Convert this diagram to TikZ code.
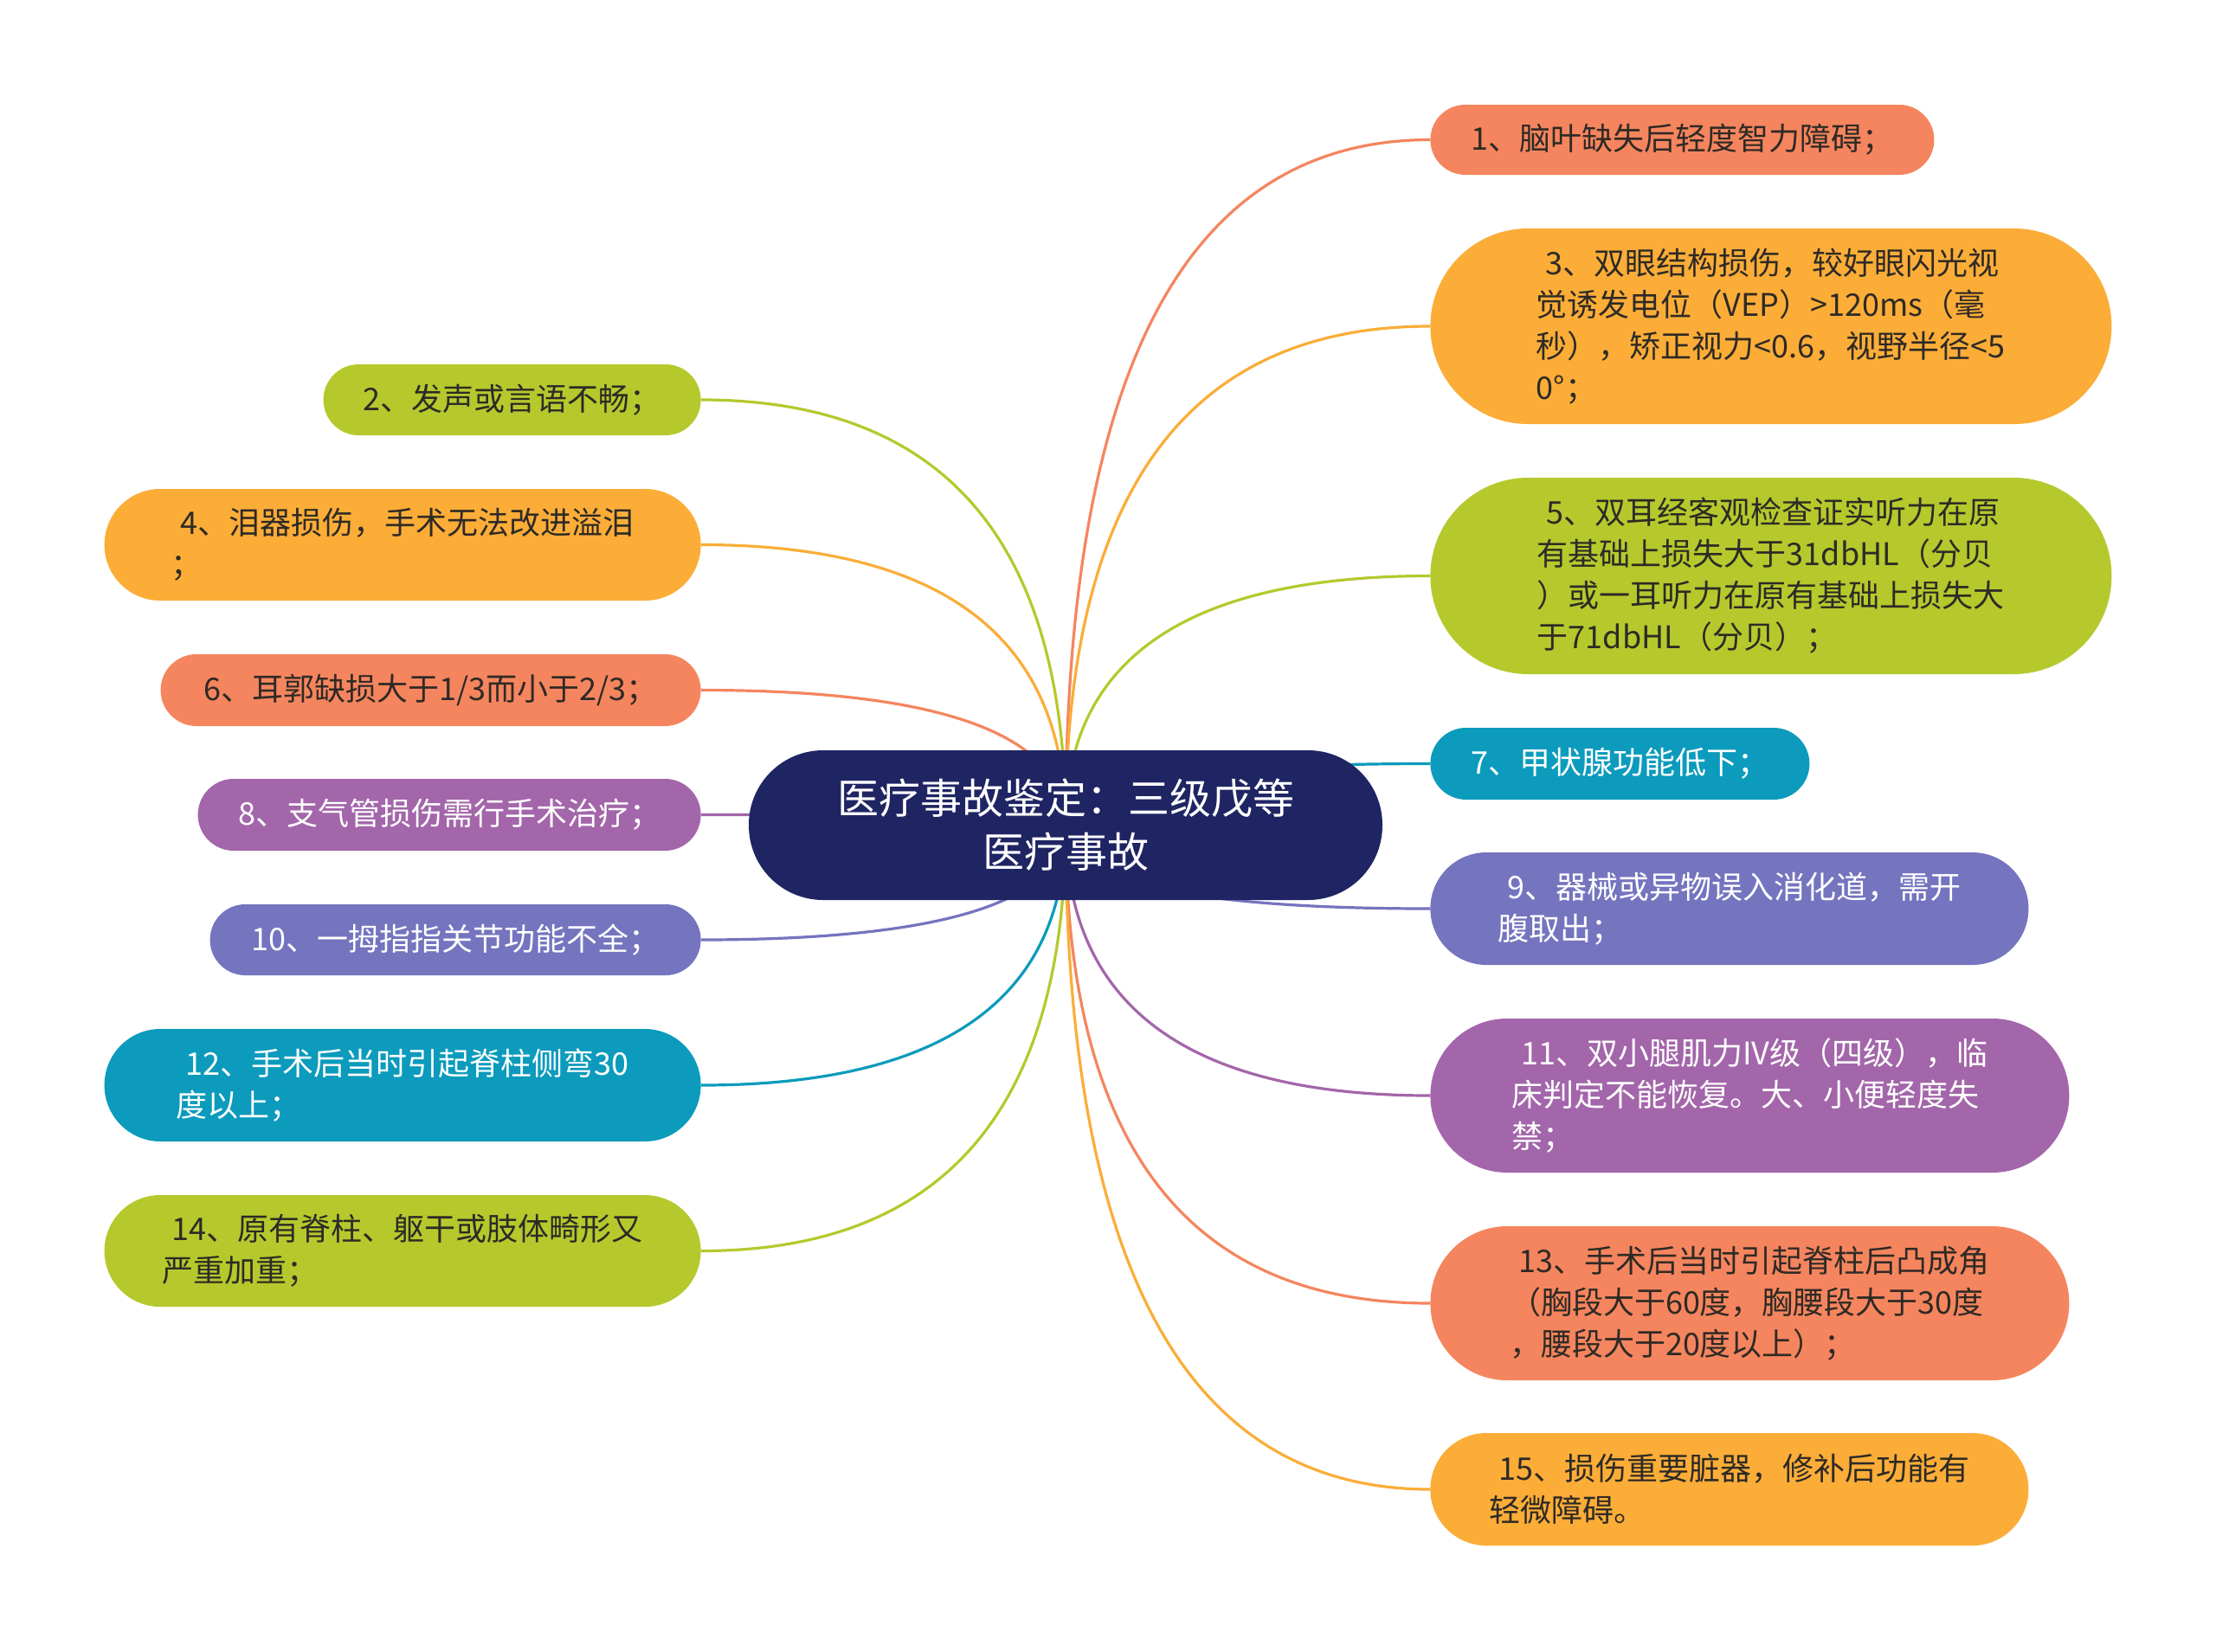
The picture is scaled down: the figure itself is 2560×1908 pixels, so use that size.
\documentclass[tikz,border=0pt]{standalone}
\usepackage{fontspec}
\setmainfont{Noto Sans CJK SC}
\usetikzlibrary{calc,backgrounds}
\definecolor{coral}{HTML}{F5855E}
\definecolor{orangeC}{HTML}{FBAD38}
\definecolor{greenC}{HTML}{B5C92D}
\definecolor{tealC}{HTML}{0C9BBC}
\definecolor{blueC}{HTML}{7574BF}
\definecolor{purpleC}{HTML}{A366AA}
\definecolor{navyC}{HTML}{1F2563}
\definecolor{darktext}{HTML}{2E2A25}
\tikzset{
  leaf/.style={rectangle, draw=none, align=left, inner xsep=0pt, inner ysep=0pt,
    font=\fontsize{18pt}{24pt}\selectfont},
  dk/.style={text=darktext},
  wt/.style={text=white},
  conn/.style={line width=1.6pt},
  rootbox/.style={rectangle, draw=none, fill=navyC, text=white, align=center,
    font=\fontsize{24pt}{31pt}\selectfont, minimum width=366pt, minimum height=86.5pt,
    rounded corners=43pt, inner sep=0pt}
}
\newcommand{\lnk}[2]{\draw[conn,#2] (c.center) .. controls ($(c.center)!0.6667!(c.center|-#1)$) and ($(#1)!0.6667!(c.center|-#1)$) .. (#1);}
\newcommand{\lsp}{\hspace*{0.3em}}
\begin{document}
\begin{tikzpicture}[x=0.5pt,y=-0.5pt]
\useasboundingbox (0,0) rectangle (2560,1908);
% central node
\node[rootbox] (c) at (1231,953.5) {医疗事故鉴定：三级戊等\\医疗事故};
% right side
\node[leaf, fill=coral, dk, anchor=west, minimum width=291pt, minimum height=40.5pt, rounded corners=20.2pt] (n1) at (1652,161.5) {1、脑叶缺失后轻度智力障碍；};
\node[leaf, fill=orangeC, dk, anchor=west, minimum width=393.5pt, minimum height=113pt, rounded corners=56.4pt] (n3) at (1652,377) {\lsp 3、双眼结构损伤，较好眼闪光视\\觉诱发电位（VEP）>120ms（毫\\秒），矫正视力<0.6，视野半径<5\\0°；};
\node[leaf, fill=greenC, dk, anchor=west, minimum width=393.5pt, minimum height=113.5pt, rounded corners=56.6pt] (n5) at (1652,665.5) {\lsp 5、双耳经客观检查证实听力在原\\有基础上损失大于31dbHL（分贝\\）或一耳听力在原有基础上损失大\\于71dbHL（分贝）；};
\node[leaf, fill=tealC, wt, anchor=west, minimum width=219pt, minimum height=41.5pt, rounded corners=20.7pt] (n7) at (1652,882.5) {7、甲状腺功能低下；};
\node[leaf, fill=blueC, wt, anchor=west, minimum width=345.5pt, minimum height=65pt, rounded corners=32.4pt] (n9) at (1652,1050) {\lsp 9、器械或异物误入消化道，需开\\腹取出；};
\node[leaf, fill=purpleC, wt, anchor=west, minimum width=369pt, minimum height=89pt, rounded corners=44.4pt] (n11) at (1652,1266) {\lsp 11、双小腿肌力IV级（四级），临\\床判定不能恢复。大、小便轻度失\\禁；};
\node[leaf, fill=coral, dk, anchor=west, minimum width=369pt, minimum height=89pt, rounded corners=44.4pt] (n13) at (1652,1506) {\lsp 13、手术后当时引起脊柱后凸成角\\（胸段大于60度，胸腰段大于30度\\，腰段大于20度以上）；};
\node[leaf, fill=orangeC, dk, anchor=west, minimum width=345.5pt, minimum height=65pt, rounded corners=32.4pt] (n15) at (1652,1721) {\lsp 15、损伤重要脏器，修补后功能有\\轻微障碍。};
% left side
\node[leaf, fill=greenC, dk, anchor=east, minimum width=218pt, minimum height=41pt, rounded corners=20.4pt] (n2) at (810,462) {2、发声或言语不畅；};
\node[leaf, fill=orangeC, dk, anchor=east, minimum width=344.5pt, minimum height=64.5pt, rounded corners=32.2pt] (n4) at (810,629.5) {\lsp 4、泪器损伤，手术无法改进溢泪\\；};
\node[leaf, fill=coral, dk, anchor=east, minimum width=312pt, minimum height=41.5pt, rounded corners=20.7pt] (n6) at (810,797.5) {6、耳郭缺损大于1/3而小于2/3；};
\node[leaf, fill=purpleC, wt, anchor=east, minimum width=290.5pt, minimum height=41.5pt, rounded corners=20.7pt] (n8) at (810,941.5) {8、支气管损伤需行手术治疗；};
\node[leaf, fill=blueC, wt, anchor=east, minimum width=283.5pt, minimum height=41pt, rounded corners=20.4pt] (n10) at (810,1086) {10、一拇指指关节功能不全；};
\node[leaf, fill=tealC, wt, anchor=east, minimum width=344.5pt, minimum height=65pt, rounded corners=32.4pt] (n12) at (810,1254) {\lsp 12、手术后当时引起脊柱侧弯30\\度以上；};
\node[leaf, fill=greenC, dk, anchor=east, minimum width=344.5pt, minimum height=64.5pt, rounded corners=32.2pt] (n14) at (810,1445.5) {\lsp 14、原有脊柱、躯干或肢体畸形又\\严重加重；};
% connectors
\begin{pgfonlayer}{background}
\fill[white] (0,0) rectangle (2560,1908);
\lnk{n1.west}{coral}
\lnk{n3.west}{orangeC}
\lnk{n5.west}{greenC}
\lnk{n7.west}{tealC}
\lnk{n9.west}{blueC}
\lnk{n11.west}{purpleC}
\lnk{n13.west}{coral}
\lnk{n15.west}{orangeC}
\lnk{n2.east}{greenC}
\lnk{n4.east}{orangeC}
\lnk{n6.east}{coral}
\lnk{n8.east}{purpleC}
\lnk{n10.east}{blueC}
\lnk{n12.east}{tealC}
\lnk{n14.east}{greenC}
\end{pgfonlayer}
\end{tikzpicture}
\end{document}
